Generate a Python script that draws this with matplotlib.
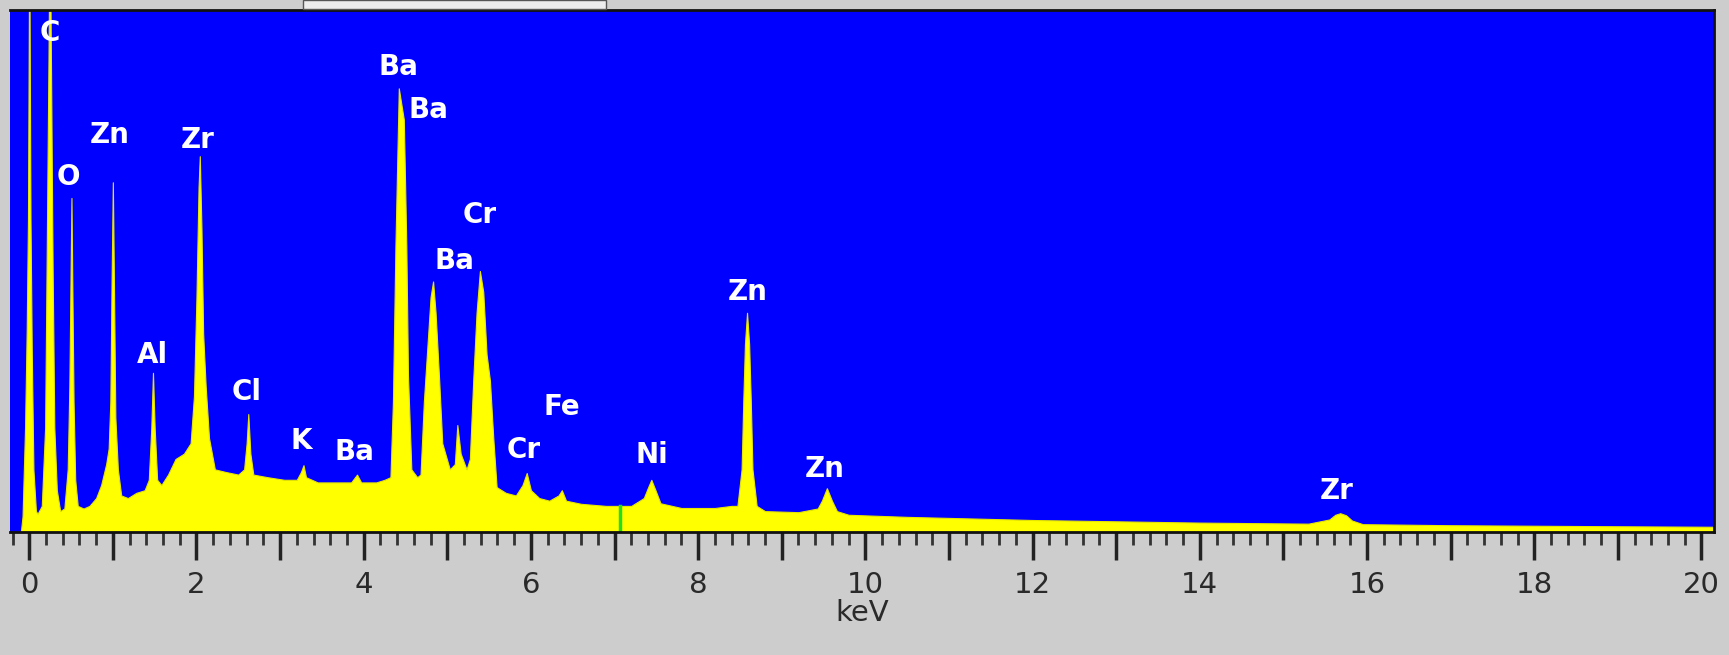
import matplotlib
matplotlib.use("Agg")
import matplotlib.pyplot as plt
from matplotlib.ticker import MultipleLocator, FuncFormatter
from matplotlib.patches import Rectangle

# ---- spectrum (keV, counts in % of full scale) ----
energy_kev = [
    -0.25, -0.10, -0.08, -0.05, -0.03, -0.015, 0.0, 0.015, 0.03, 0.05, 0.08, 0.10,
    0.15, 0.19, 0.21, 0.23, 0.245, 0.26, 0.28, 0.30, 0.33, 0.37,
    0.42, 0.46, 0.48, 0.495, 0.505, 0.515, 0.53, 0.55, 0.58, 0.65, 0.72, 0.80,
    0.86, 0.92, 0.95, 0.97, 0.985, 1.0, 1.015, 1.03, 1.06, 1.10, 1.18, 1.28, 1.38,
    1.43, 1.46, 1.48, 1.50, 1.53, 1.58, 1.66, 1.75, 1.85, 1.93,
    1.97, 2.00, 2.025, 2.04, 2.06, 2.08, 2.11, 2.15, 2.22, 2.35, 2.50, 2.57,
    2.60, 2.62, 2.645, 2.68, 2.85, 3.05, 3.20,
    3.25, 3.28, 3.31, 3.45, 3.65, 3.85,
    3.92, 3.97, 4.15, 4.25,
    4.32, 4.35, 4.38, 4.40, 4.42, 4.45, 4.48, 4.51, 4.53, 4.57, 4.64,
    4.68, 4.72, 4.76, 4.80, 4.83, 4.86, 4.90, 4.94, 5.03,
    5.09, 5.12, 5.16, 5.23,
    5.27, 5.31, 5.35, 5.39, 5.43, 5.47, 5.51, 5.55, 5.59, 5.70, 5.82,
    5.90, 5.95, 6.00, 6.10, 6.22,
    6.33, 6.37, 6.42, 6.60, 6.90, 7.20,
    7.35, 7.40, 7.44, 7.49, 7.55, 7.80, 8.20, 8.40,
    8.47, 8.52, 8.54, 8.56, 8.585, 8.61, 8.63, 8.65, 8.70, 8.80, 9.20,
    9.43, 9.48, 9.54, 9.60, 9.66, 9.80, 10.5, 12.0, 14.0, 15.3,
    15.55, 15.62, 15.68, 15.75, 15.82, 15.95, 17.0, 18.0, 19.0, 20.15,
]
counts = [
    0, 0, 3, 20, 39, 60, 115, 60, 35, 12, 4, 3.5,
    5, 20, 55, 90, 120, 90, 50, 20, 8, 4,
    4.5, 12, 28, 50, 64, 48, 25, 10, 5, 4.5, 5, 6.5,
    9, 13, 16, 25, 48, 67, 45, 22, 12, 7, 6.5, 7.5, 8,
    10, 20, 30.5, 20, 10, 9, 11, 14, 15, 17,
    26, 45, 66, 72, 58, 38, 28, 18, 12, 11.5, 11, 12,
    17, 22.6, 15, 11, 10.5, 10, 10,
    11.5, 12.8, 10.5, 9.5, 9.5, 9.5,
    11, 9.5, 9.5, 10,
    10.5, 25, 55, 70, 85, 82, 79, 55, 30, 12, 10.5,
    11, 25, 35, 45, 48, 42, 30, 17, 12,
    13, 20.5, 15, 12,
    14, 29, 42, 50, 46, 34, 29, 18, 8.6, 7.5, 7,
    9, 11.3, 8, 6.5, 6,
    7, 8, 6, 5.4, 5, 5,
    6.5, 8.5, 10, 8, 5.5, 4.6, 4.6, 5,
    5, 12, 25, 36, 42, 36, 25, 12, 5, 4, 3.8,
    4.5, 6, 8.4, 6, 4, 3.3, 2.9, 2.3, 1.8, 1.6,
    2.4, 3.3, 3.6, 3.2, 2.2, 1.5, 1.3, 1.2, 1.1, 1.0,
]

# ---- peak labels (element, keV position, height of label) ----
label_text = ["C", "O", "Zn", "Zr", "Al", "Cl", "K", "Ba", "Ba", "Ba", "Cr",
              "Ba", "Fe", "Cr", "Ni", "Zn", "Zn", "Zr"]
label_kev = [0.245, 0.47, 0.96, 2.02, 1.47, 2.60, 3.25, 3.89, 4.41, 4.77, 5.39,
             5.09, 6.37, 5.91, 7.45, 8.59, 9.51, 15.64]
label_y = [95.6, 68, 76, 75, 34, 26.8, 17.4, 15.3, 89, 80.8, 60.7,
           52, 24, 15.7, 14.7, 46, 12.1, 7.9]

tick_values = list(range(0, 21, 2))
cursor_kev = 7.06
cursor_height = 5

W, H = 1729, 655
fig = plt.figure(figsize=(W / 100, H / 100), dpi=100)
fig.patch.set_facecolor("#cdcdcd")

# small light tab at the top of the window
fig.patches.append(Rectangle((303 / W, 1 - 9 / H), 303 / W, 9 / H,
                             transform=fig.transFigure, facecolor="#ececec",
                             edgecolor="#555555", linewidth=1.0))

ax = fig.add_axes([10 / W, (H - 532) / H, (1714 - 10) / W, (532 - 10) / H])
ax.set_facecolor("#0000ff")
ax.fill_between(energy_kev, 0, counts, color="#ffff00", linewidth=0.8,
                edgecolor="#e6e600")
ax.plot([cursor_kev, cursor_kev], [0, cursor_height], color="#22dd22", lw=2.5)

for t, xk, yk in zip(label_text, label_kev, label_y):
    ax.text(xk, yk, t, color="white", fontsize=20, ha="center", va="center",
            family="DejaVu Sans", fontweight="bold")

ax.set_xlim(-0.23, 20.15)
ax.set_ylim(0, 100)
ax.set_yticks([])

ax.xaxis.set_major_locator(MultipleLocator(1))
ax.xaxis.set_minor_locator(MultipleLocator(0.2))
ax.xaxis.set_major_formatter(FuncFormatter(
    lambda v, p: f"{int(round(v))}" if int(round(v)) in tick_values else ""))
ax.tick_params(axis="x", which="major", length=20, width=2.5, color="#222222",
               labelsize=21, labelcolor="#2a2a2a", pad=8)
ax.tick_params(axis="x", which="minor", length=9, width=2, color="#333333")

for s in ["top", "right", "bottom"]:
    ax.spines[s].set_color("#111111")
    ax.spines[s].set_linewidth(2)
ax.spines["left"].set_visible(False)

ax.set_xlabel("keV", fontsize=21, color="#2a2a2a", labelpad=0)

fig.savefig("out.png", dpi=100, facecolor=fig.get_facecolor())
